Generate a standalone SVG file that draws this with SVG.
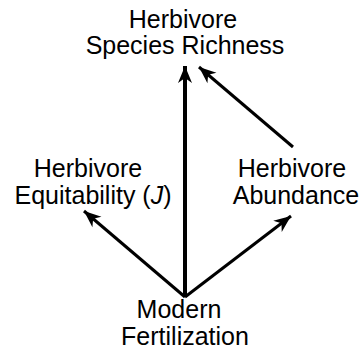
<svg xmlns="http://www.w3.org/2000/svg" width="363" height="354" viewBox="0 0 363 354">
<defs>
<style>
text{font-family:"Liberation Sans",Arial,sans-serif;font-size:25px;fill:#000;text-anchor:middle}
.c{stroke:#000;fill:none;stroke-width:3}
.v{stroke-width:4}
</style>
<marker id="ah" markerUnits="userSpaceOnUse" viewBox="-18 -8 20 16" refX="0" refY="0" markerWidth="20" markerHeight="16" orient="auto">
<path d="M0,0 L-17,-7 L-12,0 L-17,7 Z" fill="#000"/>
</marker>
</defs>
<rect width="363" height="354" fill="#fff"/>
<g id="connectors">
<line class="c v" x1="185" y1="297" x2="185" y2="66" marker-end="url(#ah)"/>
<line class="c" x1="293" y1="147" x2="199" y2="67" marker-end="url(#ah)"/>
<line class="c" x1="185" y1="297" x2="84" y2="211" marker-end="url(#ah)"/>
<line class="c" x1="185" y1="297" x2="291" y2="216" marker-end="url(#ah)"/>
</g>
<g id="richness"><text x="183" y="28">Herbivore</text><text x="185" y="54">Species Richness</text></g>
<g id="equitability"><text x="88" y="177">Herbivore</text><text x="93" y="204">Equitability (<tspan font-style="italic">J</tspan>)</text></g>
<g id="abundance"><text x="292" y="177">Herbivore</text><text x="296" y="204">Abundance</text></g>
<g id="fertilization"><text x="179" y="318">Modern</text><text x="185" y="345">Fertilization</text></g>
</svg>
